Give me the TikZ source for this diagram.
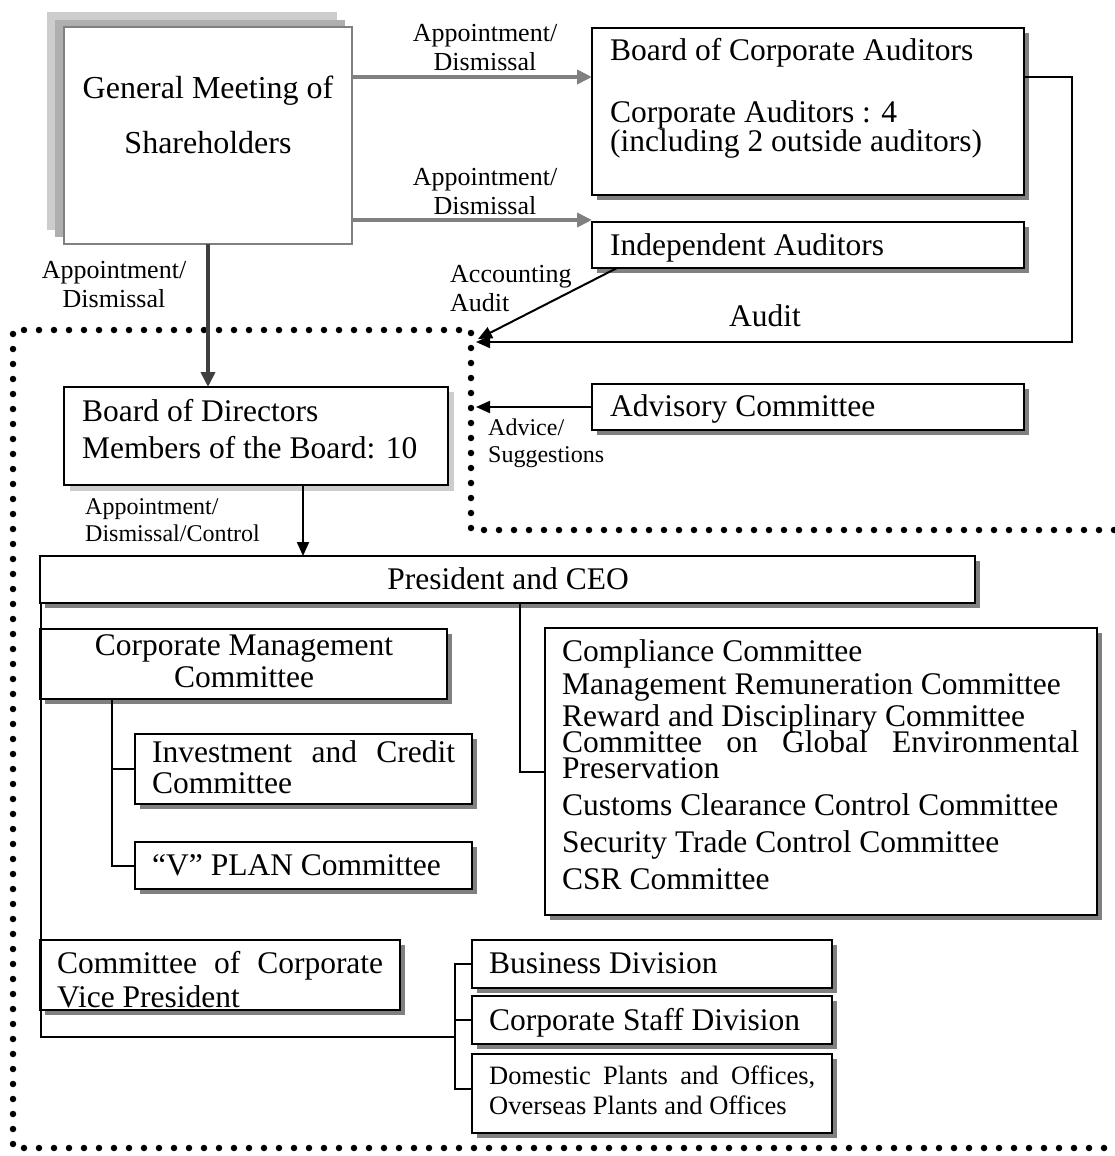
\documentclass[tikz,border=0pt]{standalone}
\usepackage{fontspec}
\setmainfont{Liberation Serif}
\usetikzlibrary{arrows.meta,shadows}
\definecolor{shd}{RGB}{128,128,128}
\definecolor{lgray}{RGB}{128,128,128}
\definecolor{dgray}{RGB}{64,64,64}
\definecolor{stip}{RGB}{205,205,205}
\definecolor{stipd}{RGB}{175,175,175}
\newcommand\fsz[2]{\fontsize{#1}{#2}\selectfont}
\begin{document}
\begin{tikzpicture}[x=1pt,y=-1pt,
 box/.style={draw=black, line width=2pt, fill=white, anchor=north west, inner sep=0pt, outer sep=0pt,
   drop shadow={shadow xshift=5pt, shadow yshift=-5pt, fill=shd, opacity=1}},
 plainbox/.style={draw=black, line width=2pt, fill=white, anchor=north west, inner sep=0pt, outer sep=0pt},
 big/.style={inner sep=0pt, font=\fsz{31.5}{33}},
 lbl/.style={inner sep=0pt, font=\fsz{26}{29}},
 smalltxt/.style={inner sep=0pt, font=\fsz{24}{27}},
 conn/.style={line width=2pt, draw=black},
 arr/.style={conn, -{Triangle[length=14pt,width=12pt]}},
 garr/.style={line width=4pt, draw=lgray, -{Triangle[length=15pt,width=14pt]}},
 dotborder/.style={line width=6.5pt, dash pattern=on 0pt off 15pt, line cap=round},
]
\useasboundingbox (0,0) rectangle (1114,1156);

% dotted boundary
\draw[dotborder] (1114,530) -- (471,530) -- (471,330) -- (13,330) -- (13,1148) -- (1114,1148);

% General meeting
\fill[stip] (47,12) rectangle (337,230);
\fill[stipd] (55,20) rectangle (345,237);
\node[plainbox, draw=lgray, line width=1.5pt, minimum width=288pt, minimum height=217pt] (gm) at (64,27) {};
\node[inner sep=0pt, font=\fsz{32}{55}, align=center, anchor=north] (gmt) at (208,76) {General Meeting of\\Shareholders};

% labels of gray arrows
\node[lbl, align=center, anchor=north] (l1) at (485,24) {Appointment/\\Dismissal};
\node[lbl, align=center, anchor=north] (l2) at (485,168) {Appointment/\\Dismissal};

% Board of corporate auditors
\node[box, minimum width=432pt, minimum height=167pt] (bca) at (592,28) {};
\node[big, anchor=base west] (bcat1) at (610,60) {Board of Corporate Auditors};
\node[big, align=left, anchor=north west, font=\fsz{31.5}{28}] (bcat2) at (610,100) {Corporate Auditors : 4\\(including 2 outside auditors)};

% Independent auditors
\node[box, minimum width=432pt, minimum height=46pt] (ia) at (592,222) {};
\node[big, anchor=base west] (iat) at (610,255) {Independent Auditors};

% Board of directors
\fill[stip] (70,392) rectangle (454,491);
\node[plainbox, minimum width=384pt, minimum height=98pt] (bod) at (64,387) {};
\node[big, align=left, anchor=north west, font=\fsz{31.5}{37}] (bodt) at (82,399) {Board of Directors\\Members of the Board: 10};

% Advisory committee
\node[box, minimum width=432pt, minimum height=46pt] (adv) at (592,384) {};
\node[big, anchor=base west] (advt) at (610,416) {Advisory Committee};
\node[smalltxt, align=left, anchor=north west] (advl) at (488,419) {Advice/\\Suggestions};

% President
\node[box, minimum width=935pt, minimum height=47pt] (pres) at (40,556) {};
\node[big, anchor=base] (prest) at (508,589) {President and CEO};
\node[smalltxt, align=left, anchor=north west] (bpl) at (85,498) {Appointment/\\Dismissal/Control};

% Corporate management committee
\node[box, minimum width=407pt, minimum height=70pt] (cmc) at (40,629) {};
\node[big, align=center, anchor=north, font=\fsz{31.5}{32}] (cmct) at (244,634) {Corporate Management\\Committee};

% Investment and credit
\node[box, minimum width=337pt, minimum height=70pt] (ic) at (135,734) {};
\node[big, align=left, anchor=north west, font=\fsz{31.5}{31}] (ict) at (152,740) {\makebox[303pt][s]{Investment and Credit}\\Committee};

% V plan
\node[box, minimum width=337pt, minimum height=47pt] (vp) at (135,842) {};
\node[big, anchor=base west] (vpt) at (152,875) {“V” PLAN Committee};

% committees
\node[box, minimum width=552pt, minimum height=287pt] (com) at (545,628) {};
\node[big, align=left, anchor=north west, font=\fsz{31.5}{33}] (comt) at (562,639) {Compliance Committee\\Management Remuneration Committee\\[-1pt]Reward and Disciplinary Committee\\[-7pt]\makebox[517pt][s]{Committee on Global Environmental}\\[-7pt]Preservation\\[4pt]Customs Clearance Control Committee\\[4pt]Security Trade Control Committee\\[4pt]CSR Committee};

% Committee of corporate vice president
\node[box, minimum width=360pt, minimum height=70pt] (ccvp) at (40,940) {};
\node[big, align=left, anchor=north west, font=\fsz{31.5}{34}] (ccvpt) at (57,951) {\makebox[326pt][s]{Committee of Corporate}\\Vice President};

% divisions
\node[box, minimum width=360pt, minimum height=48pt] (bd) at (472,940) {};
\node[big, anchor=base west] (bdt) at (489,973) {Business Division};
\node[box, minimum width=360pt, minimum height=48pt] (csd) at (472,996) {};
\node[big, anchor=base west] (csdt) at (489,1030) {Corporate Staff Division};
\node[box, minimum width=360pt, minimum height=79pt] (dom) at (472,1054) {};
\node[lbl, align=left, anchor=north west, font=\fsz{26.5}{30}] (domt) at (489,1066) {\makebox[326pt][s]{Domestic Plants and Offices,}\\Overseas Plants and Offices};

% ---- connectors ----
\coordinate (g1) at (352,77);
\coordinate (g2) at (352,220);
\draw[garr] (g1) -- (g1 -| bca.west);
\draw[garr] (g2) -- (g2 -| ia.west);

\coordinate (auend) at (476,342);
\draw[arr] (bca.east |- g1) -- (1072,77) -- (1072,342) -- (auend);
\node[big, anchor=base] (audt) at (765,326) {Audit};

\coordinate (acend) at (478,339);
\draw[arr] ([xshift=25pt]ia.south west) -- (acend);
\node[lbl, align=left, anchor=north west] (acct) at (450,265) {Accounting\\Audit};

\draw[line width=4pt, draw=dgray, -{Triangle[length=15pt,width=14pt]}] (gm.south) -- (gm.south |- bod.north);
\node[lbl, align=center, anchor=north] (gml) at (114,261) {Appointment/\\Dismissal};

\coordinate (advend) at (476,407);
\draw[arr] (adv.west) -- (advend);

\coordinate (b1) at (303,485);
\draw[arr] (b1) -- (b1 |- pres.north);

\coordinate (p1) at (520,603);
\draw[conn] (p1) |- (com.west);

\coordinate (cb) at (112,699);
\draw[conn] (cb) |- (ic.west);
\draw[conn] (cb) |- (vp.west);

\coordinate (p0) at (41,603);
\coordinate (brk) at (455,1037);
\draw[conn] (p0) |- (brk);
\draw[conn] (bd.west) -| (brk);
\draw[conn] (brk) |- ([yshift=5pt]dom.west);
\draw[conn] (csd.west) -- (csd.west -| brk);
\end{tikzpicture}
\end{document}
